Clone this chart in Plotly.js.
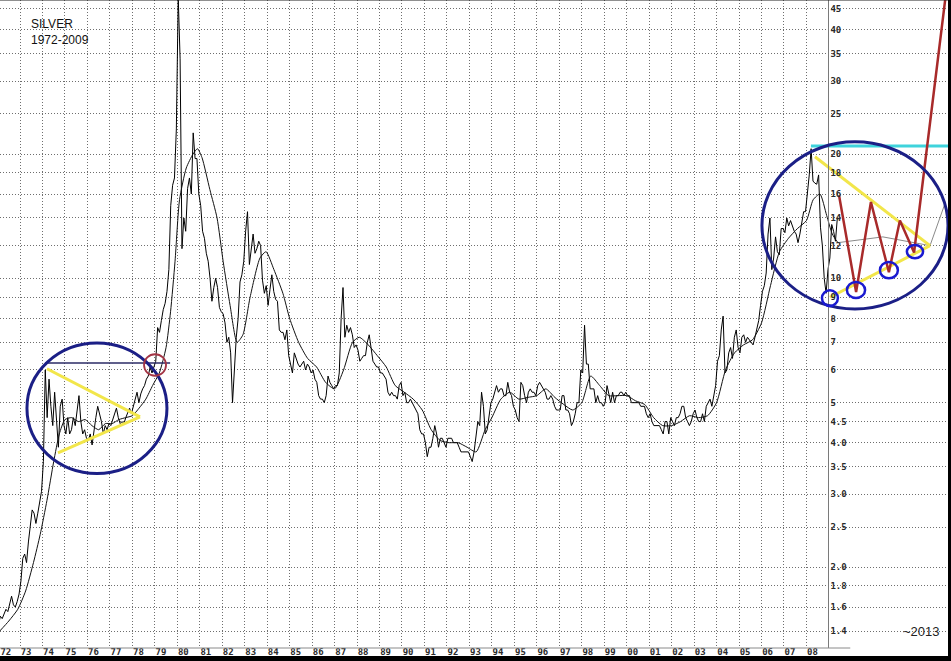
<!DOCTYPE html>
<html>
<head>
<meta charset="utf-8">
<script src="https://cdn.plot.ly/plotly-3.0.1.min.js"></script>
<style>html,body{margin:0;padding:0;background:#fff;}#chart{width:951px;height:661px;}</style>
</head>
<body>
<div id="chart"></div>
<script>
// ---------- DATA (monthly closes) ----------
const firstYear = 1972;
const silver1970s = [
  1.45,1.52,1.50,1.55,1.58,1.56,1.62,1.70,1.62,1.60,1.65,1.72,
  1.85,2.10,2.15,2.05,2.30,2.50,2.75,2.70,2.55,2.70,2.90,3.05,
  3.60,6.00,4.60,5.70,4.90,4.40,5.30,4.60,3.90,4.90,5.10,4.40,
  4.20,4.60,4.20,4.30,4.60,4.40,4.80,5.20,4.50,4.20,4.30,4.10,
  4.05,4.20,3.95,4.30,4.60,4.90,4.70,4.50,4.20,4.40,4.30,4.45,
  4.40,4.55,4.70,4.85,4.60,4.45,4.50,4.45,4.60,4.75,4.85,4.70,
  4.90,5.05,5.30,5.00,5.25,5.40,5.50,5.70,5.80,6.10,5.90,6.10,
  6.30,7.60,7.40,7.90,8.40,8.70,9.30,10.5,15.0,16.8,17.5,23.0
];
const silver1980s = [
  48.0,34.0,11.8,14.0,13.0,16.5,17.5,16.0,22.5,19.5,19.5,16.0,
  15.0,13.0,12.5,11.5,11.0,10.0,8.8,9.5,10.0,9.5,8.5,8.3,
  8.2,7.8,7.0,7.2,6.6,5.0,6.0,7.2,8.0,9.8,10.2,11.0,
  13.0,14.5,10.8,12.0,12.8,11.5,11.8,12.3,12.0,9.9,9.2,9.6,
  8.6,9.4,10.2,9.3,8.9,8.8,7.5,7.4,7.4,7.1,7.5,6.5,
  6.2,5.9,6.6,6.4,6.2,6.1,6.2,6.3,6.0,6.2,6.1,5.9,
  6.0,5.7,5.6,5.2,5.1,5.1,5.0,5.2,5.8,5.6,5.5,5.4,
  5.5,5.5,5.9,8.0,9.5,7.2,7.7,7.4,7.6,7.3,6.8,6.9,
  6.7,6.3,6.4,6.5,6.5,7.0,7.3,6.7,6.3,6.2,6.1,6.1,
  5.9,5.9,5.8,5.7,5.3,5.2,5.3,5.2,5.2,5.1,5.5,5.6
];
const silver1990s = [
  5.2,5.3,5.0,5.0,5.1,5.0,4.9,4.8,4.7,4.3,4.2,4.2,
  4.0,3.7,3.9,3.9,4.1,4.4,4.2,3.9,4.1,4.1,4.0,3.9,
  4.1,4.1,4.1,4.0,4.0,4.0,3.9,3.8,3.8,3.8,3.8,3.8,
  3.7,3.6,3.8,4.1,4.5,4.4,5.3,4.9,4.2,4.3,4.6,5.0,
  5.1,5.3,5.5,5.3,5.4,5.4,5.2,5.2,5.6,5.3,5.2,4.9,
  4.8,4.6,4.5,5.6,5.5,5.2,5.0,5.3,5.4,5.3,5.3,5.2,
  5.5,5.6,5.5,5.4,5.3,5.1,5.1,5.2,5.1,4.9,4.8,4.8,
  4.8,5.2,5.2,4.8,4.8,4.7,4.4,4.5,4.7,5.0,5.0,6.0,
  5.9,7.7,6.2,6.2,5.4,5.4,5.4,5.0,5.2,5.0,5.0,4.9,
  5.0,5.5,5.2,5.0,5.3,5.0,5.2,5.2,5.3,5.3,5.2,5.3
];
const silver2000s = [
  5.2,5.2,5.0,5.0,5.0,5.0,5.0,4.9,4.9,4.9,4.7,4.6,
  4.7,4.5,4.4,4.4,4.4,4.4,4.3,4.2,4.5,4.5,4.2,4.6,
  4.5,4.4,4.6,4.6,4.7,4.9,4.9,4.6,4.5,4.4,4.5,4.7,
  4.8,4.6,4.5,4.5,4.7,4.5,4.9,5.0,5.1,4.9,5.2,5.5,
  6.3,6.5,7.5,8.1,5.9,6.0,6.6,6.8,6.4,7.2,7.5,6.8,
  6.6,7.2,7.3,7.0,7.2,7.1,7.0,6.9,7.2,7.6,7.9,8.6,
  9.3,9.6,10.3,12.8,14.0,10.5,11.2,12.6,11.6,11.4,13.2,13.2,
  12.9,14.0,13.4,13.8,13.3,13.0,12.8,12.2,12.8,13.6,14.5,14.5,
  16.0,17.8,20.6,17.2,17.0,16.9,17.8,13.3,12.0,10.0,9.2,10.5,
  11.2,13.5,13.0,12.3,14.0
];

// moving average
const maYears = [1972.1,1972.5,1972.9,1973.25,1973.6,1973.9,1974.2,1974.5,1974.75,1975.0,1975.3,1975.6,1975.9,
  1976.2,1976.5,1976.8,1977.1,1977.4,1977.7,1978.0,1978.3,1978.6,1978.9,1979.2,1979.5,1979.7,1979.9,
  1980.1,1980.4,1980.7,1980.9,1981.1,1981.45,1981.77,1982.04,1982.35,1982.66,1982.92,1983.24,1983.68,1983.95,
  1984.3,1984.7,1985.0,1985.4,1985.8,1986.2,1986.6,1987.0,1987.4,1987.8,1988.1,1988.5,1988.9,1989.3,1989.7,
  1990.1,1990.5,1990.9,1991.3,1991.7,1992.1,1992.5,1992.9,1993.3,1993.7,1994.0,1994.4,1994.8,1995.2,1995.6,
  1996.0,1996.4,1996.8,1997.2,1997.6,1998.0,1998.4,1998.8,1999.2,1999.6,2000.0,2000.4,2000.8,2001.2,2001.6,
  2002.0,2002.4,2002.8,2003.2,2003.6,2004.0,2004.4,2004.8,2005.2,2005.6,2006.0,2006.4,2006.8,2007.2,2007.6,
  2008.0,2008.3,2008.6,2008.9,2009.15,2009.4];
const maValues = [1.40,1.48,1.58,1.75,2.05,2.40,2.90,3.60,4.20,4.55,4.60,4.50,4.55,
  4.40,4.30,4.45,4.45,4.55,4.60,4.65,4.85,5.10,5.50,5.90,6.80,8.3,11.0,
  15.5,18.5,20.0,20.6,19.6,16.4,14.0,11.0,8.6,7.0,7.3,9.0,11.2,11.6,
  10.5,9.2,8.0,7.0,6.4,6.1,5.6,5.4,6.0,7.0,7.2,6.9,6.5,6.1,5.5,
  5.3,5.1,4.8,4.3,4.05,4.0,4.0,3.9,3.8,4.3,4.6,5.1,5.3,5.1,5.15,
  5.2,5.4,5.15,4.95,4.8,5.0,5.8,5.5,5.2,5.2,5.2,5.05,4.95,4.6,4.4,
  4.4,4.5,4.65,4.6,4.65,5.0,6.0,6.6,6.9,7.1,7.8,9.6,11.6,12.5,13.2,
  13.8,15.5,16.0,14.2,12.8,12.2];

// projected average (thin grey)
const projAvgYears = [2009.4, 2011.4, 2013.5, 2014.17];
const projAvgValues = [12.2, 12.6, 12.0, 15.2];

// red projected path to ~2013
const projYears = [2009.45, 2010.21, 2010.87, 2011.67, 2012.16, 2012.79, 2014.23];
const projValues = [15.9, 9.27, 15.3, 10.35, 13.8, 11.55, 50];

// yellow triangle lines
const triLeftUpperX = [1974.2, 1978.34], triLeftUpperY = [6.04, 4.62];
const triLeftLowerX = [1974.69, 1978.34], triLeftLowerY = [3.78, 4.62];
const triRightUpperX = [2008.38, 2013.5], triRightUpperY = [19.7, 12.0];
const triRightLowerX = [2009.05, 2013.5], triRightLowerY = [9.0, 12.0];

// horizontal resistance lines
const res1974X = [1974.11, 1979.68], res1974Y = [6.24, 6.24];
const res2008X = [2008.2, 2014.4], res2008Y = [20.9, 20.9];

// axis ticks
const yTickVals = [45,40,35,30,25,20,18,16,14,12,10,9,8,7,6,5,4.5,4,3.5,3,2.5,2,1.8,1.6,1.4];
const yTickText = ['45','40','35','30','25','20','18','16','14','12','10','9','8','7','6','5','4.5','4.0','3.5','3.0','2.5','2.0','1.8','1.6','1.4'];
const labelYears = [];
const yearLabels = [];
for (let y = 1972; y <= 2008; y++) { labelYears.push(y); yearLabels.push(String(y % 100).padStart(2, '0')); }
const gridYears = labelYears.filter(y => y >= 1973);

// ---------- BUILD ----------
function monthly(arr, startYear) { return arr.map((v, i) => startYear + (i + 0.5) / 12); }
const priceY = [].concat(silver1970s, silver1980s, silver1990s, silver2000s);
const priceX = monthly(priceY, firstYear);
// label sits just right of each year's grid line; the first one is kept inside the frame
const labelPos = labelYears.map(y => y === 1972 ? 1972.37 : y + 0.27);

const line = (x, y, color, width, extra) => Object.assign({x, y, type: 'scatter', mode: 'lines', hoverinfo: 'skip',
  line: {color, width}}, extra || {});

const traces = [
  line(priceX, priceY, '#000000', 1),
  line(maYears, maValues, '#111111', 1, {line: {color: '#111', width: 1, shape: 'spline', smoothing: 0.6}}),
  line(projAvgYears, projAvgValues, '#8a8a8a', 1),
  line(res1974X, res1974Y, '#2b2b66', 1.5),
  line(triLeftUpperX, triLeftUpperY, '#f2e64a', 3),
  line(triLeftLowerX, triLeftLowerY, '#f2e64a', 3),
  line(triRightUpperX, triRightUpperY, '#f2e64a', 3),
  line(triRightLowerX, triRightLowerY, '#f2e64a', 3),
  line(res2008X, res2008Y, '#3fd3dc', 3),
  line(projYears, projValues, '#a82a2a', 2.5)
];

const tickFont = {family: 'DejaVu Sans Mono, monospace', size: 9, color: '#2a2a2a', weight: 'bold'};
const gridDash = '1px,2px';
const ell = (x0, x1, y0, y1, color, width) => ({type: 'circle', xref: 'x', yref: 'y', x0, x1, y0, y1,
  line: {color, width}, fillcolor: 'rgba(0,0,0,0)', layer: 'above'});

const layout = {
  width: 951, height: 661,
  margin: {l: 0, r: 3, t: 0, b: 13, pad: 0},
  paper_bgcolor: '#ffffff', plot_bgcolor: '#ffffff',
  showlegend: false,
  xaxis: {
    type: 'linear', range: [1972.11, 2014.30], fixedrange: true, automargin: false,
    tickmode: 'array', tickvals: labelPos, ticktext: yearLabels,
    showgrid: false, zeroline: false, showline: false, ticks: '',
    ticklabelstandoff: -3, ticklabeloverflow: 'allow',
    tickfont: tickFont,
    minor: {tickmode: 'array', tickvals: gridYears, showgrid: true, gridcolor: '#6e6e6e', griddash: gridDash, gridwidth: 1, ticks: ''}
  },
  yaxis: {
    type: 'log', range: [0.1050, 1.6739], fixedrange: true, automargin: false,
    anchor: 'free', position: 0.873, side: 'right',
    tickmode: 'array', tickvals: yTickVals, ticktext: yTickText,
    showgrid: true, gridcolor: '#6e6e6e', griddash: gridDash, gridwidth: 1,
    showline: true, linecolor: '#7a7a7a', linewidth: 1,
    ticks: '', zeroline: false, tickfont: tickFont
  },
  shapes: [
    // blank area right of the price axis
    {type: 'rect', xref: 'x', yref: 'paper', x0: 2008.97, x1: 2014.30, y0: 0, y1: 1, fillcolor: '#ffffff', line: {width: 0}, layer: 'between'},
    // x axis base line
    {type: 'line', xref: 'x', yref: 'paper', x0: 1972.11, x1: 2009.95, y0: 0, y1: 0, line: {color: '#8a8a8a', width: 1}},
    // frame
    {type: 'rect', xref: 'paper', yref: 'paper', x0: -0.01, x1: 1.01, y0: -0.04, y1: -0.0125, fillcolor: '#000', line: {width: 0}},
    {type: 'rect', xref: 'paper', yref: 'paper', x0: 1.0, x1: 1.01, y0: -0.04, y1: 1.01, fillcolor: '#000', line: {width: 0}},
    {type: 'line', xref: 'paper', yref: 'paper', x0: 0, x1: 1, y0: 1, y1: 1, line: {color: '#222', width: 1}},
    // annotations drawn on chart
    ell(1973.31, 1979.54, 3.37, 6.97, '#1b1f86', 3),
    ell(1978.52, 1979.50, 5.81, 6.55, '#a33545', 1.8),
    ell(2006.02, 2014.30, 8.43, 21.4, '#1b1f86', 3),
    ell(2008.69, 2009.40, 8.57, 9.36, '#1a1ad0', 2.5),
    ell(2009.80, 2010.61, 8.96, 9.80, '#1a1ad0', 2.5),
    ell(2011.27, 2012.07, 10.0, 10.95, '#1a1ad0', 2.5),
    ell(2012.47, 2013.19, 11.19, 12.04, '#1a1ad0', 2.5)
  ],
  annotations: [
    {xref: 'paper', yref: 'paper', x: 29 / 948, y: 1 - 15 / 648, xanchor: 'left', yanchor: 'top', align: 'left',
      showarrow: false, text: 'SILVER<br>1972-2009', font: {family: 'Liberation Sans, Arial, sans-serif', size: 12, color: '#111'}},
    {xref: 'x', yref: 'paper', x: 2013.1, y: 17 / 648, xanchor: 'center', yanchor: 'middle',
      showarrow: false, text: '~2013', font: {family: 'Liberation Sans, Arial, sans-serif', size: 13, color: '#222'}}
  ]
};

Plotly.newPlot('chart', traces, layout, {staticPlot: true, displayModeBar: false});
</script>
</body>
</html>
